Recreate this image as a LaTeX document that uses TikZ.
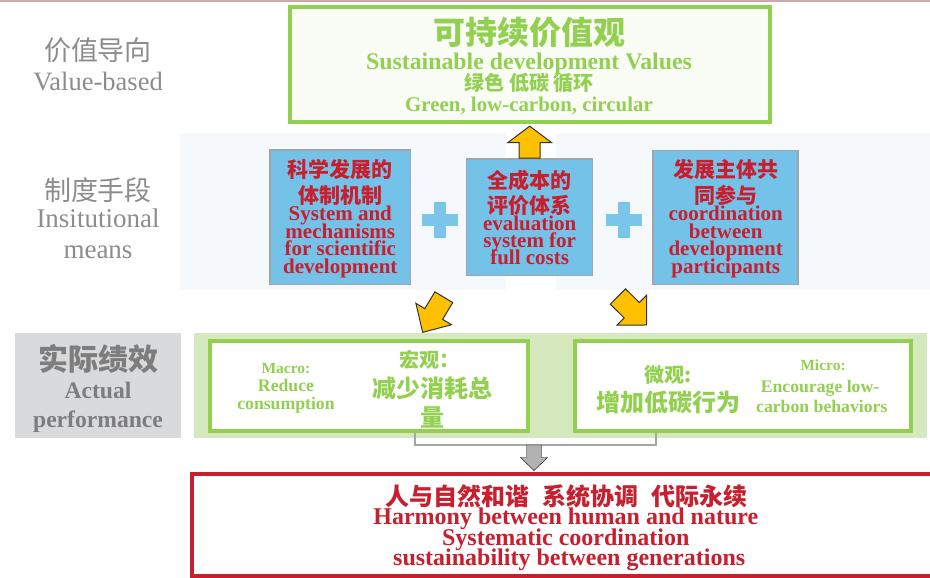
\documentclass[tikz,border=0pt]{standalone}
\usepackage{fontspec}
\setmainfont{Liberation Serif}
\newfontfamily\cjk{Noto Sans CJK SC}
\newcommand{\fsz}[1]{\fontsize{#1pt}{#1pt}\selectfont}
\definecolor{lgreen}{RGB}{146,208,80}
\definecolor{dred}{RGB}{200,30,45}
\definecolor{sky}{RGB}{117,194,233}
\definecolor{plusblue}{RGB}{124,197,234}
\definecolor{gold}{RGB}{255,192,0}
\definecolor{lgray}{RGB}{140,140,140}
\definecolor{mgray}{RGB}{125,125,125}
\definecolor{boxgray}{RGB}{217,218,220}
\definecolor{bandblue}{RGB}{245,249,252}
\definecolor{bandgreen}{RGB}{214,232,190}
\definecolor{topfill}{RGB}{250,252,246}
\definecolor{topline}{RGB}{205,170,170}
\definecolor{boxedge}{RGB}{160,165,170}
\definecolor{brk}{RGB}{166,166,166}
\definecolor{garrow}{RGB}{178,178,178}
\definecolor{aedge}{RGB}{50,50,50}
% #1 style, #2 tail, #3 angle, #4 length, #5 half shaft, #6 half head, #7 head length
\newcommand{\blockarrow}[7]{%
  \draw[#1, shift={(#2)}, rotate=#3] (0,-#5) -- ({#4-#7},-#5) -- ({#4-#7},-#6) -- (#4,0)
    -- ({#4-#7},#6) -- ({#4-#7},#5) -- (0,#5) -- cycle;}
\begin{document}
\begin{tikzpicture}[x=1pt,y=1pt,
  tx/.style={inner sep=0pt, anchor=base},
  bbox/.style={draw=boxedge, line width=1.5pt, fill=sky, inner sep=0pt},
  gbox/.style={draw=lgreen, line width=4pt, fill=white, inner sep=0pt},
  yarr/.style={fill=gold, draw=aedge, line width=1pt, line join=miter},
  gbr/.style={draw=brk, line width=1.5pt},
  en/.style={tx, font=\rmfamily\bfseries\fsz{21}, text=dred},
  zh/.style={tx, font=\cjk\bfseries\fsz{21}, text=dred},
  gl/.style={tx, font=\rmfamily\bfseries\fsz{17.7}, text=lgreen},
  lab/.style={tx, text=lgray}]
\useasboundingbox (0,0) rectangle (930,-578);
% top thin line
\draw[topline, line width=2pt] (0,-1) -- (930,-1);

% background bands
\fill[bandblue] (180,-133) rectangle (506,-290);
\fill[bandblue] (556,-133) rectangle (930,-290);
\fill[bandgreen] (194,-333) rectangle (927,-438);

% top box
\node[draw=lgreen, line width=4pt, fill=topfill, minimum width=480, minimum height=115, inner sep=0pt] (top) at (530,-64.5) {};
\node[tx, font=\cjk\bfseries\fsz{32}, text=lgreen] (top1) at (529,-45) {可持续价值观};
\node[tx, font=\rmfamily\bfseries\fsz{23.8}, text=lgreen] (top2) at (529,-69.5) {Sustainable development Values};
\node[tx, font=\cjk\bfseries\fsz{20}, text=lgreen] (top3) at (529,-91) {绿色 低碳 循环};
\node[tx, font=\rmfamily\bfseries\fsz{20.9}, text=lgreen] (top4) at (529,-111) {Green, low-carbon, circular};

% left labels
\node[lab, font=\cjk\fsz{27}] (l1a) at (98,-60.5) {价值导向};
\node[lab, font=\rmfamily\fsz{26.5}] (l1b) at (98,-90.7) {Value-based};
\node[lab, font=\cjk\fsz{27}] (l2a) at (98,-200.5) {制度手段};
\node[lab, font=\rmfamily\fsz{27}] (l2b) at (98,-227) {Insitutional};
\node[lab, font=\rmfamily\fsz{27}] (l2c) at (98,-258) {means};
\node[fill=boxgray, minimum width=166, minimum height=105, inner sep=0pt] (perf) at (98,-385.5) {};
\node[tx, font=\cjk\bfseries\fsz{30}, text=mgray] (l3a) at (98,-370) {实际绩效};
\node[tx, font=\rmfamily\bfseries\fsz{23.6}, text=mgray] (l3b) at (98,-398) {Actual};
\node[tx, font=\rmfamily\bfseries\fsz{23.6}, text=mgray] (l3c) at (98,-427) {performance};

% middle boxes
\node[bbox, minimum width=140.5, minimum height=134.5] (b1) at (340.3,-217.3) {};
\node[bbox, minimum width=126, minimum height=116.5] (b2) at (529.7,-217.2) {};
\node[bbox, minimum width=145, minimum height=134] (b3) at (725.7,-217.5) {};

\node[zh] (b1a) at (340.3,-177) {科学发展的};
\node[zh] (b1b) at (340.3,-203) {体制机制};
\node[en] (b1c) at (340.3,-220.5) {System and};
\node[en] (b1d) at (340.3,-238) {mechanisms};
\node[en] (b1e) at (340.3,-255.5) {for scientific};
\node[en] (b1f) at (340.3,-273) {development};

\node[zh] (b2a) at (529.7,-188) {全成本的};
\node[zh] (b2b) at (529.7,-213) {评价体系};
\node[en] (b2c) at (529.7,-230) {evaluation};
\node[en] (b2d) at (529.7,-247.3) {system for};
\node[en] (b2e) at (529.7,-264.3) {full costs};

\node[zh] (b3a) at (725.7,-177.5) {发展主体共};
\node[zh] (b3b) at (725.7,-203.5) {同参与};
\node[en] (b3c) at (725.7,-220.5) {coordination};
\node[en] (b3d) at (725.7,-238) {between};
\node[en] (b3e) at (725.7,-255.5) {development};
\node[en] (b3f) at (725.7,-273) {participants};

% plus signs
\foreach \px in {440,623.7}{
  \fill[plusblue] (\px-18,-214) rectangle (\px+18,-226);
  \fill[plusblue] (\px-6,-202) rectangle (\px+6,-238);
}

% yellow arrows
\blockarrow{yarr}{b2.north}{90}{32}{10.5}{22}{16.5}
\coordinate (la) at (443.8,-297.2);
\coordinate (ra) at (617.9,-296.5);
\blockarrow{yarr}{la}{-121}{41}{10.4}{20.8}{21.4}
\blockarrow{yarr}{ra}{-44.7}{40.5}{10.8}{21}{21}

% bottom green boxes
\node[gbox, minimum width=318, minimum height=90] (mac) at (369,-386) {};
\node[gbox, minimum width=335.7, minimum height=90] (mic) at (743.2,-386) {};

\node[gl, font=\rmfamily\bfseries\fsz{15.5}] (m1) at (286,-373.3) {Macro:};
\node[gl] (m2) at (286,-391.7) {Reduce};
\node[gl] (m3) at (286,-409.3) {consumption};
\node[tx, font=\cjk\bfseries\fsz{20}, text=lgreen] (m4) at (429,-367) {宏观：};
\node[tx, font=\cjk\bfseries\fsz{24}, text=lgreen] (m5) at (432.4,-397) {减少消耗总};
\node[tx, font=\cjk\bfseries\fsz{24}, text=lgreen] (m6) at (432.4,-426) {量};

\node[tx, font=\cjk\bfseries\fsz{20}, text=lgreen] (n1) at (668,-382) {微观:};
\node[tx, font=\cjk\bfseries\fsz{24}, text=lgreen] (n2) at (668,-411) {增加低碳行为};
\node[gl, font=\rmfamily\bfseries\fsz{15.5}] (n3) at (823,-370) {Micro:};
\node[gl] (n4) at (820,-392.7) {Encourage low-};
\node[gl] (n5) at (821.8,-412.7) {carbon behaviors};

% bracket and grey arrow
\coordinate (bl) at (415,-445);
\coordinate (br) at (656,-445);
\coordinate (bm) at (534,-445);
\draw[gbr] (bl |- mac.south) -- (bl) -- (br) -- (br |- mic.south);
\blockarrow{fill=garrow}{bm}{-90}{25.5}{7.5}{13.5}{13}

% result box
\node[draw=dred, line width=4pt, minimum width=748, minimum height=102, inner sep=0pt] (res) at (566,-525) {};
\node[tx, font=\cjk\bfseries\fsz{24}, text=dred] (r1) at (566.7,-505.5) {人与自然和谐\hspace{13pt}系统协调\hspace{13pt}代际永续};
\node[tx, font=\rmfamily\bfseries\fsz{24}, text=dred] (r2) at (565.8,-524.3) {Harmony between human and nature};
\node[tx, font=\rmfamily\bfseries\fsz{24}, text=dred] (r3) at (565.8,-545) {Systematic coordination};
\node[tx, font=\rmfamily\bfseries\fsz{24}, text=dred] (r4) at (569.2,-565) {sustainability between generations};
\end{tikzpicture}
\end{document}
